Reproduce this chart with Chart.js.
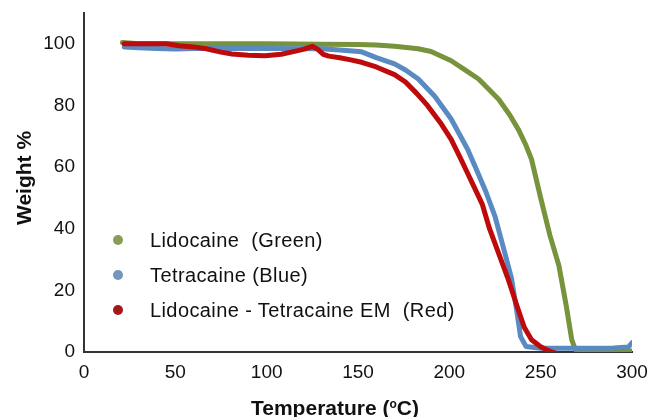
<!DOCTYPE html>
<html lang="en">
  <head>
    <meta charset="UTF-8" />
    <script src="https://cdn.jsdelivr.net/npm/chart.js"></script>
    <title>TGA</title>
    <style>
      body {
        margin: 0;
        background: #fff;
        font-family: "Liberation Sans", Arial, sans-serif;
      }
      .wrap {
        position: relative;
        width: 651px;
        height: 417px;
      }
      .legend-row {
        position: absolute;
        left: 0;
        height: 24px;
        line-height: 24px;
        font-size: 20px;
        letter-spacing: 0.4px;
        color: #111;
        white-space: pre;
      }
      .legend-row .dot {
        position: absolute;
        left: 113px;
        top: 7px;
        width: 10px;
        height: 10px;
        border-radius: 50%;
      }
      .legend-row span.txt {
        position: absolute;
        left: 150px;
      }
      .axis-title {
        position: absolute;
        font-size: 21px;
        font-weight: bold;
        color: #111;
        white-space: pre;
        line-height: 24px;
      }
    </style>
  </head>
  <body>
    <div class="wrap">
      <canvas id="chart" width="651" height="417"></canvas>
      <div class="legend-row" style="top: 228px"><div class="dot" style="background: #8a9d57"></div><span class="txt">Lidocaine  (Green)</span></div>
      <div class="legend-row" style="top: 263px"><div class="dot" style="background: #7296bd"></div><span class="txt">Tetracaine (Blue)</span></div>
      <div class="legend-row" style="top: 298px"><div class="dot" style="background: #a8161c"></div><span class="txt">Lidocaine - Tetracaine EM  (Red)</span></div>
      <div class="axis-title" id="ytitle" style="left: -24px; top: 166px; width: 96px; text-align: center; transform: rotate(-90deg)">Weight %</div>
      <div class="axis-title" style="left: 235px; top: 392px; width: 200px; text-align: center">Temperature (<sup style="font-size: 12px; vertical-align: 7px">o</sup>C)</div>
    </div>
    <script>
      // setup area
      const lidoTemp = [21, 30, 50, 80, 100, 130, 150, 160, 170, 183, 190, 201, 210, 216, 222, 227, 233, 238, 242, 245, 250, 255, 260, 264, 267, 269, 275, 290, 300];
      const lidoWeight = [100.4, 100, 100, 100, 100, 99.9, 99.8, 99.6, 99.2, 98.4, 97.5, 94.5, 91, 88.6, 85, 82, 77, 72, 67, 62.5, 50, 38, 28, 15, 4, 0.8, 0.4, 0.3, 0.3];

      const tetraTemp = [22, 30, 40, 50, 60, 80, 100, 130, 140, 152, 160, 170, 176, 183, 192, 201, 210, 215, 220, 225, 230, 234, 237, 239, 242, 250, 270, 290, 298, 300];
      const tetraWeight = [99, 98.7, 98.5, 98.3, 98.5, 98.5, 98.5, 98.4, 98, 97.4, 95.5, 93.5, 91.5, 88.6, 83, 75.6, 65.8, 59, 52, 44, 33, 24, 13, 5, 1.8, 1.2, 1.2, 1.3, 1.6, 3];

      const emTemp = [22, 45, 52, 60, 67, 75, 81, 90, 99, 108, 114, 120, 125, 128, 131, 134, 140, 146, 152, 160, 170, 176, 182, 188, 195, 201, 206, 210, 214, 218, 222, 227, 232, 237, 241, 245, 250, 253, 256, 258];
      const emWeight = [100, 100, 99.4, 99, 98.4, 97.3, 96.7, 96.3, 96.1, 96.6, 97.4, 98.2, 99.2, 98.2, 96.6, 96, 95.5, 94.8, 94, 92.5, 90, 87.6, 84, 80, 74.5, 69, 63, 58, 53, 48, 40, 32, 24, 15, 8, 4, 1.7, 0.8, 0, -0.3];

      const xTicks = [0, 50, 100, 150, 200, 250, 300];
      const yTicks = [0, 20, 40, 60, 80, 100];

      const toPoints = (xs, ys) => xs.map((x, i) => ({ x, y: ys[i] }));

      const lineStyle = {
        showLine: true,
        pointRadius: 0,
        borderWidth: 5,
        borderJoinStyle: 'round',
        borderCapStyle: 'round',
        tension: 0,
      };

      // Render area
      const chart = new Chart(document.getElementById('chart'), {
        type: 'scatter',
        data: {
          datasets: [
            { ...lineStyle, label: 'Lidocaine (Green)', data: toPoints(lidoTemp, lidoWeight), borderColor: '#77933c', order: 3 },
            { ...lineStyle, label: 'Tetracaine (Blue)', data: toPoints(tetraTemp, tetraWeight), borderColor: '#5a8ac2', order: 2 },
            { ...lineStyle, label: 'Lidocaine-Tetracaine EM (Red)', data: toPoints(emTemp, emWeight), borderColor: '#bf0a0c', order: 1 },
          ],
        },
        options: {
          responsive: false,
          animation: false,
          layout: {
            padding: { left: 0, right: 19, top: 13, bottom: 0 },
          },
          plugins: {
            legend: { display: false },
            tooltip: { enabled: false },
          },
          scales: {
            x: {
              type: 'linear',
              min: 0,
              max: 300,
              afterFit: (s) => {
                s.height = 65;
                s.paddingLeft = 0;
                s.paddingRight = 0;
              },
              afterBuildTicks: (s) => { s.ticks = xTicks.map(v => ({ value: v })); },
              grid: { display: false, drawTicks: false },
              border: { display: true, color: '#333', width: 2 },
              ticks: {
                padding: 9,
                color: '#111',
                maxRotation: 0,
                font: { family: 'Liberation Sans', size: 19 },
              },
            },
            y: {
              min: 0,
              max: 110,
              afterFit: (s) => {
                s.width = 84;
                s.paddingTop = 0;
                s.paddingBottom = 0;
              },
              afterBuildTicks: (s) => { s.ticks = yTicks.map(v => ({ value: v })); },
              grid: { display: false, drawTicks: false },
              border: { display: true, color: '#333', width: 2 },
              ticks: {
                padding: 9,
                color: '#111',
                font: { family: 'Liberation Sans', size: 19 },
              },
            },
          },
        },
      });
    </script>
  </body>
</html>
